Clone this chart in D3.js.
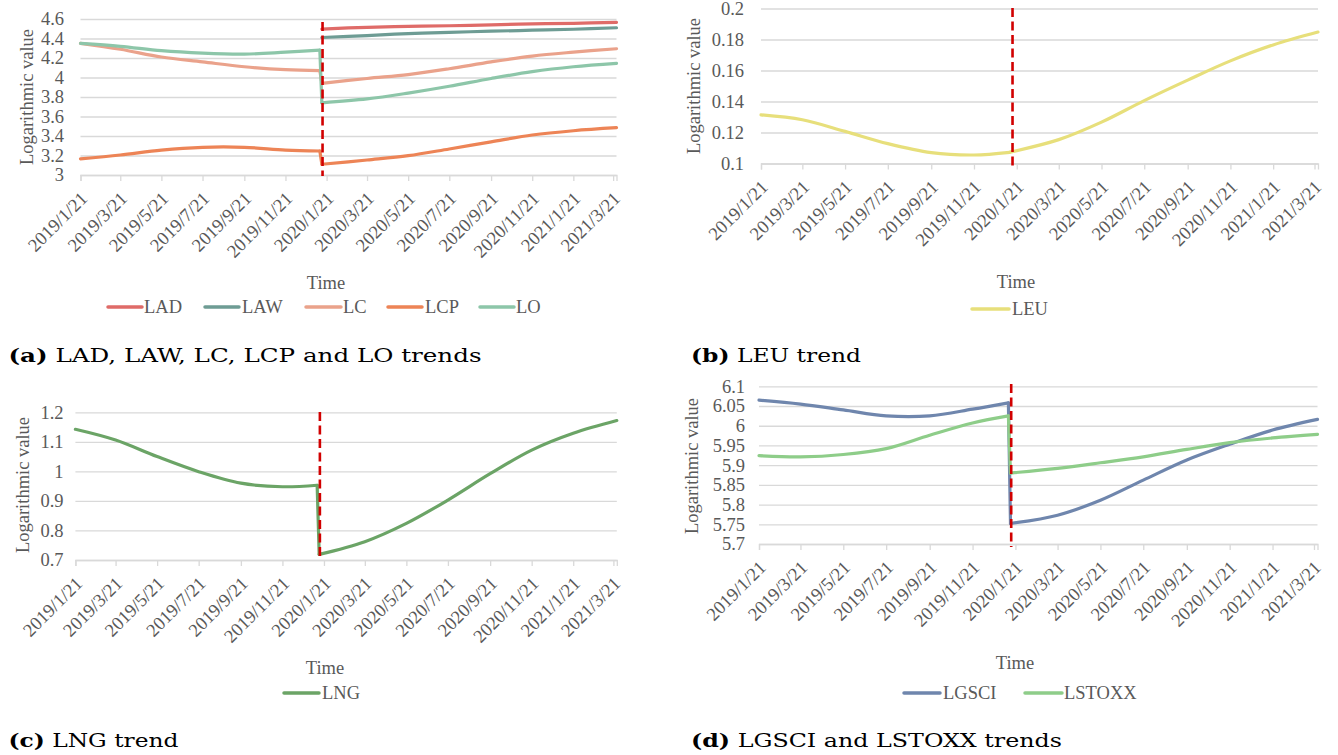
<!DOCTYPE html>
<html>
<head>
<meta charset="utf-8">
<script src="https://cdn.jsdelivr.net/npm/d3@7/dist/d3.min.js"></script>
<style>
  html, body { margin: 0; padding: 0; background: #ffffff; }
  svg { display: block; }
</style>
</head>
<body>
<svg id="chart" width="1338" height="755"></svg>
<script>
// ---------------- DATA ----------------
const X_DOMAIN = ["2019-01-21", "2021-03-26"];
const TICK_DATES = ["2019-01-21","2019-03-21","2019-05-21","2019-07-21","2019-09-21","2019-11-21",
  "2020-01-21","2020-03-21","2020-05-21","2020-07-21","2020-09-21","2020-11-21","2021-01-21","2021-03-21"];
const TICK_LABELS = ["2019/1/21","2019/3/21","2019/5/21","2019/7/21","2019/9/21","2019/11/21",
  "2020/1/21","2020/3/21","2020/5/21","2020/7/21","2020/9/21","2020/11/21","2021/1/21","2021/3/21"];
const BREAK_DATE = "2020-01-15";
// sample dates: 7 before the break, 8 after it
const DATES = ["2019-01-21","2019-03-21","2019-05-21","2019-07-21","2019-09-21","2019-11-21","2020-01-11",
  "2020-01-14","2020-03-21","2020-05-21","2020-07-21","2020-09-21","2020-11-21","2021-01-21","2021-03-26"];
const N_PRE = 7;

// panel (a)
const LAD = [null,null,null,null,null,null,null, 4.497,4.515,4.525,4.531,4.540,4.550,4.556,4.566];
const LAW = [null,null,null,null,null,null,null, 4.410,4.430,4.450,4.463,4.475,4.485,4.495,4.510];
const LC  = [4.35,4.29,4.21,4.16,4.11,4.08,4.07, 3.94,3.99,4.03,4.09,4.16,4.22,4.26,4.295];
const LCP = [3.165,3.205,3.256,3.284,3.284,3.256,3.246, 3.11,3.154,3.198,3.267,3.34,3.41,3.454,3.485];
const LO  = [4.35,4.32,4.275,4.25,4.24,4.26,4.28, 3.74,3.78,3.84,3.91,3.99,4.06,4.11,4.145];
// panel (b)
const LEU = [0.1314,0.1282,0.1207,0.1128,0.1070,0.1055,0.1072, 0.1076,0.1154,0.1267,0.1406,0.1538,0.1662,0.1765,0.1848];
// panel (c)
const LNG = [1.1425,1.106,1.05,0.999,0.960,0.948,0.953, 0.719,0.762,0.824,0.903,0.992,1.072,1.129,1.172];
// panel (d)
const LGSCI  = [6.065,6.055,6.040,6.025,6.025,6.042,6.058, 5.752,5.773,5.811,5.862,5.913,5.953,5.989,6.016];
const LSTOXX = [5.924,5.921,5.927,5.942,5.976,6.007,6.025, 5.880,5.892,5.906,5.921,5.940,5.957,5.969,5.978];

const Y_TICKS_A = [3,3.2,3.4,3.6,3.8,4,4.2,4.4,4.6];
const Y_TICKS_B = [0.1,0.12,0.14,0.16,0.18,0.2];
const Y_TICKS_C = [0.7,0.8,0.9,1,1.1,1.2];
const Y_TICKS_D = [5.7,5.75,5.8,5.85,5.9,5.95,6,6.05,6.1];

const SERIES_A = [["LAD", LAD, "#df6b68"], ["LAW", LAW, "#6e9c94"], ["LC", LC, "#eaa28b"], ["LCP", LCP, "#ed8456"], ["LO", LO, "#8dc6a9"]];
const SERIES_B = [["LEU", LEU, "#e7df7b"]];
const SERIES_C = [["LNG", LNG, "#6ba466"]];
const SERIES_D = [["LGSCI", LGSCI, "#6f86ad"], ["LSTOXX", LSTOXX, "#8ecd89"]];

// ---------------- DRAWING ----------------
const parse = d3.timeParse("%Y-%m-%d");
const svg = d3.select("#chart");
const TEXT = "#595959";
const GRID = "#d9d9d9";
const FONT = "Liberation Serif";
const FS = 18.5;

const panels = [
  { series: SERIES_A, yTicks: Y_TICKS_A, xr: [80.5, 616.5], yd: [3, 4.6], yr: [175, 19], labelX: 64,
    dash: [22, 176], titleY: [27, 97], timeXY: [326, 289],
    legend: [[108, 142, 144], [205, 239, 242], [306, 341, 343], [388, 422, 425], [480, 514, 516]], legendY: 307,
    caption: ["(a)", " LAD, LAW, LC, LCP and LO trends"], capXY: [8.5, 362], capW: 473 },
  { series: SERIES_B, yTicks: Y_TICKS_B, xr: [761, 1318], yd: [0.1, 0.2], yr: [163.5, 8.5], labelX: 744,
    dash: [8, 166], titleY: [694, 86], timeXY: [1016, 288],
    legend: [[972, 1009, 1012]], legendY: 309,
    caption: ["(b)", " LEU trend"], capXY: [691, 362], capW: 170 },
  { series: SERIES_C, yTicks: Y_TICKS_C, xr: [75.4, 616.8], yd: [0.7, 1.2], yr: [560, 412.3], labelX: 63.5,
    dash: [412, 560], titleY: [23, 485], timeXY: [325, 674],
    legend: [[284, 319, 322]], legendY: 693,
    caption: ["(c)", " LNG trend"], capXY: [8.5, 747], capW: 170 },
  { series: SERIES_D, yTicks: Y_TICKS_D, xr: [759, 1317.5], yd: [5.7, 6.1], yr: [544, 386.3], labelX: 745,
    dash: [384, 547], titleY: [692, 466], timeXY: [1015, 669],
    legend: [[904, 940, 943], [1025, 1062, 1064]], legendY: 693,
    caption: ["(d)", " LGSCI and LSTOXX trends"], capXY: [691, 747], capW: 371 }
];

panels.forEach(p => {
  const x = d3.scaleTime().domain(X_DOMAIN.map(parse)).range(p.xr);
  const y = d3.scaleLinear().domain(p.yd).range(p.yr);
  const g = svg.append("g");
  const w = p.xr[1] - p.xr[0];

  // y axis + gridlines
  const ya = g.append("g")
    .attr("transform", `translate(${p.xr[0]},0)`)
    .call(d3.axisLeft(y).tickValues(p.yTicks).tickSize(-w).tickPadding(p.xr[0] - p.labelX).tickFormat(d => String(d)));
  ya.select(".domain").remove();
  ya.selectAll(".tick line").attr("stroke", GRID).attr("stroke-width", 1.3);
  ya.selectAll(".tick text").attr("fill", TEXT).attr("font-family", FONT).attr("font-size", FS);

  // x axis
  const xa = g.append("g")
    .attr("transform", `translate(0,${p.yr[0]})`)
    .call(d3.axisBottom(x).tickValues(TICK_DATES.map(parse)).tickSize(6)
      .tickFormat((d, i) => TICK_LABELS[i]));
  xa.select(".domain").attr("stroke", GRID).attr("stroke-width", 1.3);
  xa.selectAll(".tick line").attr("stroke", GRID).attr("stroke-width", 1.3);
  xa.selectAll(".tick text")
    .attr("fill", TEXT).attr("font-family", FONT).attr("font-size", FS)
    .attr("text-anchor", "end").attr("x", 0).attr("y", 0).attr("dy", "0.35em")
    .attr("transform", "translate(3,20) rotate(-45)");

  // series: smooth before the break, connector, smooth after
  const dates = DATES.map(parse);
  const smooth = d3.line()
    .defined(d => d[1] != null)
    .x(d => x(d[0])).y(d => y(d[1]))
    .curve(d3.curveCatmullRom.alpha(0.5));
  p.series.forEach(([name, vals, color]) => {
    const pts = vals.map((v, i) => [dates[i], v]);
    const parts = [pts.slice(0, N_PRE), pts.slice(N_PRE - 1, N_PRE + 1), pts.slice(N_PRE)];
    parts.forEach(part => {
      if (part.filter(d => d[1] != null).length < 2) return;
      g.append("path")
        .datum(part)
        .attr("fill", "none").attr("stroke", color).attr("stroke-width", 3.2)
        .attr("stroke-linejoin", "round").attr("stroke-linecap", "round")
        .attr("d", smooth);
    });
  });

  // break marker
  const bx = x(parse(BREAK_DATE));
  g.append("line")
    .attr("x1", bx).attr("x2", bx).attr("y1", p.dash[0]).attr("y2", p.dash[1])
    .attr("stroke", "#d10000").attr("stroke-width", 2.6).attr("stroke-dasharray", "9,4.5");

  // axis titles
  g.append("text")
    .attr("transform", `translate(${p.titleY[0]},${p.titleY[1]}) rotate(-90)`)
    .attr("text-anchor", "middle").attr("dy", "0.35em")
    .attr("fill", TEXT).attr("font-family", FONT).attr("font-size", FS)
    .text("Logarithmic value");
  g.append("text")
    .attr("x", p.timeXY[0]).attr("y", p.timeXY[1])
    .attr("text-anchor", "middle")
    .attr("fill", TEXT).attr("font-family", FONT).attr("font-size", FS)
    .text("Time");

  // legend
  p.series.forEach(([name, vals, color], i) => {
    const [x1, x2, tx] = p.legend[i];
    g.append("line").attr("x1", x1).attr("x2", x2).attr("y1", p.legendY).attr("y2", p.legendY)
      .attr("stroke", color).attr("stroke-width", 3.5).attr("stroke-linecap", "round");
    g.append("text").attr("x", tx).attr("y", p.legendY).attr("dy", "0.35em")
      .attr("fill", TEXT).attr("font-family", FONT).attr("font-size", FS)
      .text(name);
  });

  // caption
  const cap = g.append("text")
    .attr("x", p.capXY[0]).attr("y", p.capXY[1])
    .attr("fill", "#000").attr("font-family", "DejaVu Serif").attr("font-size", 19)
    .attr("textLength", p.capW).attr("lengthAdjust", "spacingAndGlyphs");
  cap.append("tspan").attr("font-weight", "bold").text(p.caption[0]);
  cap.append("tspan").text(p.caption[1]);
});
</script>
</body>
</html>
